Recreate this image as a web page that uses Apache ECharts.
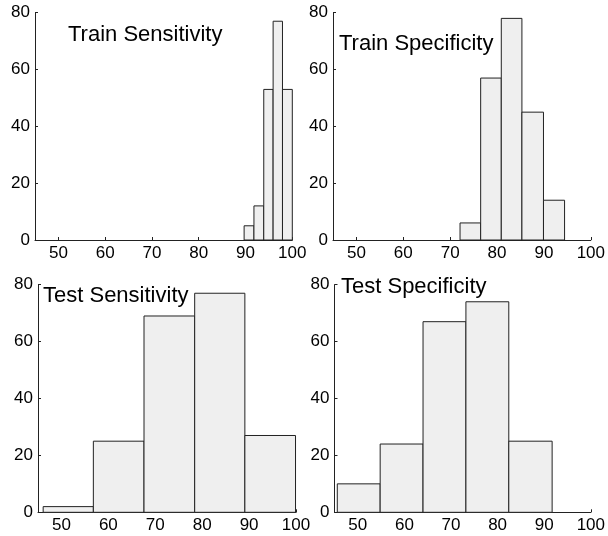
<!DOCTYPE html>
<html>
<head>
<meta charset="utf-8">
<script src="https://cdn.jsdelivr.net/npm/echarts@6/dist/echarts.min.js"></script>
<style>html,body{margin:0;padding:0;background:#fff}#c{width:608px;height:536px}</style>
</head>
<body>
<div id="c"></div>
<script>
// Panel titles
const titles = ['Train Sensitivity', 'Train Specificity', 'Test Sensitivity', 'Test Specificity'];
// Bin edges (percent) and counts for each histogram
const trainSensEdges = [89.7, 91.8, 93.9, 95.9, 97.9, 100];
const trainSensCounts = [5, 12, 53, 77, 53];
const trainSpecEdges = [72.1, 76.5, 80.9, 85.3, 89.9, 94.4];
const trainSpecCounts = [6, 57, 78, 45, 14];
const testSensEdges = [46.1, 56.8, 67.6, 78.4, 89.1, 99.9];
const testSensCounts = [2, 25, 69, 77, 27];
const testSpecEdges = [45.6, 54.8, 64.0, 73.2, 82.4, 91.7];
const testSpecCounts = [10, 24, 67, 74, 25];
// Axis ticks
const xTicks = [50, 60, 70, 80, 90, 100];
const yTicks = [0, 20, 40, 60, 80];

const panels = [
  {edges: trainSensEdges, counts: trainSensCounts},
  {edges: trainSpecEdges, counts: trainSpecCounts},
  {edges: testSensEdges, counts: testSensCounts},
  {edges: testSpecEdges, counts: testSpecCounts}
];

const FONT = "'Liberation Sans', Arial, sans-serif";
const grids = [
  {left: 35, top: 12.7, width: 257.3, height: 227.3},
  {left: 333, top: 12.7, width: 259.3, height: 227.3},
  {left: 38, top: 284.7, width: 258, height: 227.6},
  {left: 334.5, top: 284.7, width: 259, height: 227.6}
];
const titlePos = [[68, 35], [339, 43.5], [43, 296], [341, 287]];

const axisLineColor = '#222';
const xAxes = grids.map((g, i) => ({
  type: 'value', gridIndex: i, min: 45, max: 100,
  axisLine: {show: true, onZero: false, lineStyle: {color: axisLineColor, width: 1}},
  axisTick: {show: true, inside: true, length: 3, customValues: xTicks, lineStyle: {color: axisLineColor}},
  axisLabel: {show: true, customValues: xTicks, margin: 5, color: '#000', fontSize: 17, fontFamily: FONT},
  splitLine: {show: false}
}));
const yAxes = grids.map((g, i) => ({
  type: 'value', gridIndex: i, min: 0, max: 80,
  axisLine: {show: true, onZero: false, lineStyle: {color: axisLineColor, width: 1}},
  axisTick: {show: true, inside: true, length: 3, customValues: yTicks, lineStyle: {color: axisLineColor}},
  axisLabel: {show: true, customValues: yTicks, margin: 5, color: '#000', fontSize: 17, fontFamily: FONT},
  splitLine: {show: false}
}));

const series = panels.map((p, i) => ({
  type: 'custom', xAxisIndex: i, yAxisIndex: i,
  data: p.counts.map((c, k) => [p.edges[k], p.edges[k + 1], c]),
  encode: {x: [0, 1], y: 2},
  renderItem: function (params, api) {
    const a = api.coord([api.value(0), api.value(2)]);
    const b = api.coord([api.value(1), 0]);
    return {
      type: 'rect',
      shape: {x: a[0], y: a[1], width: b[0] - a[0], height: b[1] - a[1]},
      style: {fill: '#efefef', stroke: '#222', lineWidth: 1}
    };
  }
}));

const graphic = titles.map((t, i) => ({
  type: 'text', x: titlePos[i][0], y: titlePos[i][1], z: 100,
  style: {text: t, fill: '#000', fontSize: 22, fontFamily: FONT, align: 'left', verticalAlign: 'middle'}
}));

const chart = echarts.init(document.getElementById('c'), null, {renderer: 'canvas'});
chart.setOption({
  animation: false,
  backgroundColor: '#fff',
  grid: grids,
  xAxis: xAxes,
  yAxis: yAxes,
  series: series,
  graphic: graphic
});
</script>
</body>
</html>
